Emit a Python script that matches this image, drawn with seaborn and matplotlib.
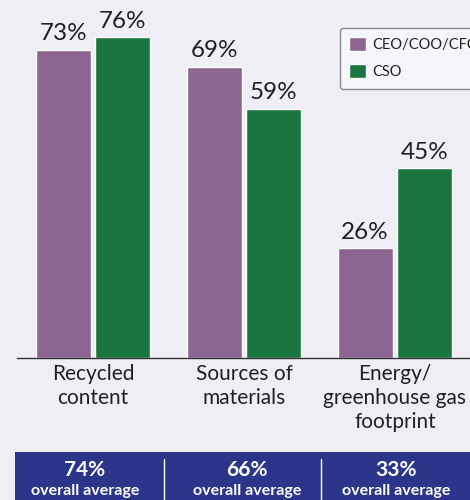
import pandas as pd
import matplotlib.pyplot as plt
import matplotlib.patches as mpatches
import seaborn as sns

categories = ['Recycled\ncontent', 'Sources of\nmaterials', 'Energy/\ngreenhouse gas\nfootprint']
roles = ['CEO/COO/CFO', 'CSO']
ceo_values = [73, 69, 26]
cso_values = [76, 59, 45]
overall_avg = ['74%', '66%', '33%']

bg = '#f0eef5'
colors = {'CEO/COO/CFO': '#8c6591', 'CSO': '#1a753e'}

df = pd.DataFrame({
    'category': categories * 2,
    'role': [roles[0]] * 3 + [roles[1]] * 3,
    'value': ceo_values + cso_values,
})

sns.set_style('white')
plt.rcParams['font.family'] = ['Lato', 'DejaVu Sans']

fig = plt.figure(figsize=(4.7, 5.0), dpi=100)
fig.patch.set_facecolor(bg)
W, H = 470, 500
ax = fig.add_axes([17 / W, 1 - 358 / H, (W - 17) / W, 358 / H])
ax.set_facecolor(bg)

sns.barplot(data=df, x='category', y='value', hue='role', palette=colors,
            width=0.79, gap=0.08, ax=ax, legend=True, saturation=1)

ax.set_ylim(0, 358 / 4.22)
ax.set_xlim(-0.503, 2.497)
for c in ax.containers:
    ax.bar_label(c, fmt='%d%%', padding=4, fontsize=17.5, color='#231f20')

for s in ['top', 'right', 'left']:
    ax.spines[s].set_visible(False)
ax.spines['bottom'].set_color('#333333')
ax.spines['bottom'].set_linewidth(1)
ax.set_yticks([])
ax.tick_params(axis='x', length=0, pad=4, labelsize=15, labelcolor='#231f20')
for lbl in ax.get_xticklabels():
    lbl.set_linespacing(1.25)
ax.set_xlabel('')
ax.set_ylabel('')

leg = ax.legend(loc='upper left', bbox_to_anchor=(340 / W, 1 - 28 / H),
                bbox_transform=fig.transFigure, frameon=True, fancybox=True,
                fontsize=10.5, handlelength=1.1, handleheight=1.1,
                handletextpad=0.45, labelspacing=0.8, borderpad=0.65,
                borderaxespad=0, title=None)
leg.get_frame().set_edgecolor('#8a8a8a')
leg.get_frame().set_facecolor('#f6f5f9')
leg.get_frame().set_alpha(1)
for t in leg.get_texts():
    t.set_color('#231f20')

# bottom band with overall averages
band = mpatches.Rectangle((15 / W, 0), 1 - 15 / W, 48 / H, transform=fig.transFigure,
                          facecolor='#2b3589', edgecolor='none')
fig.patches.append(band)
for xp in [164, 321]:
    fig.add_artist(plt.Line2D([xp / W, xp / W], [0, 41 / H], transform=fig.transFigure,
                              color='white', linewidth=1))
for xp, txt in zip([85, 247, 396], overall_avg):
    fig.text(xp / W, 1 - 470 / H, txt, ha='center', va='center', color='white',
             fontsize=15, fontweight='bold')
    fig.text(xp / W, 1 - 491 / H, 'overall average', ha='center', va='center',
             color='white', fontsize=11.5, fontweight='bold')

plt.savefig('out.png', dpi=100, facecolor=bg)
plt.close()
